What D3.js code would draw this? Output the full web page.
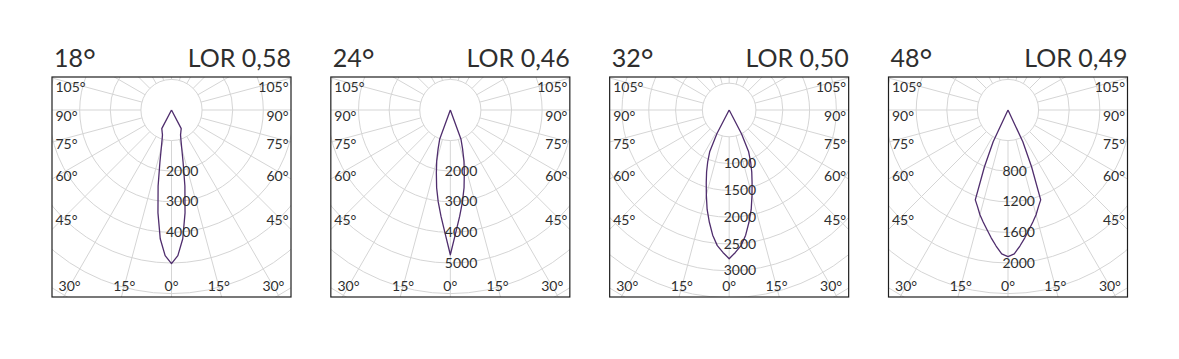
<!DOCTYPE html>
<html>
<head>
<meta charset="utf-8">
<script src="https://cdn.jsdelivr.net/npm/d3@7"></script>
<style>
  html, body { margin: 0; padding: 0; background: #fff; }
  text { font-family: Lato, "Noto Sans", sans-serif; }
</style>
</head>
<body>
<script>
// ---- data ----
const beamTitles = ["18", "24", "32", "48"];
const lorLabels = ["LOR 0,58", "LOR 0,46", "LOR 0,50", "LOR 0,49"];
const angles = [0, 2.5, 5, 7.5, 10, 12.5, 15, 17.5, 20, 22.5, 25, 27.5, 30];
const beam18 = [5020, 4765, 4225, 3390, 2520, 1750, 1292, 1025, 864, 795, 735, 688, 0];
const beam24 = [4730, 4020, 3490, 3030, 2580, 2110, 1720, 1330, 1020, 0, 0, 0, 0];
const beam32 = [2775, 2660, 2540, 2355, 2127, 1900, 1645, 1422, 1232, 1046, 860, 493, 0];
const beam48 = [1917, 1882, 1785, 1685, 1586, 1500, 1418, 1325, 1250, 807, 459, 0, 0];
const ringStep = [1000, 1000, 500, 400];
const ringLabels18 = [2000, 3000, 4000];
const ringLabels24 = [2000, 3000, 4000, 5000];
const ringLabels32 = [1000, 1500, 2000, 2500, 3000];
const ringLabels48 = [800, 1200, 1600, 2000];
const sideAngles = [105, 90, 75, 60, 45];
const bottomAngles = [-30, -15, 0, 15, 30];
const spokeAngles = d3.range(-165, 181, 15);

const series = [beam18, beam24, beam32, beam48];
const ringLabelSets = [ringLabels18, ringLabels24, ringLabels32, ringLabels48];

// ---- layout ----
const W = 1179, H = 359;
const boxW = 239, boxTop = 77, boxH = 220;
const stepPx = [30.6, 30.6, 26.8, 30.6];
const gridColor = "#d5d5d5", textColor = "#2e2e2e", lobeColor = "#4f2d6d";

const svg = d3.select("body").append("svg").attr("width", W).attr("height", H);
svg.append("rect").attr("width", W).attr("height", H).attr("fill", "#fff");
const defs = svg.append("defs");

const panelX = d3.scalePoint().domain(d3.range(4)).range([52, 888.5]);
const rad = d => d * Math.PI / 180;

d3.range(4).forEach(i => {
  const x0 = panelX(i), cx = x0 + boxW / 2, cy = boxTop + 33;
  const r = d3.scaleLinear().domain([0, ringStep[i]]).range([0, stepPx[i]]);

  defs.append("clipPath").attr("id", "clip" + i)
    .append("rect").attr("x", x0).attr("y", boxTop).attr("width", boxW).attr("height", boxH);

  const g = svg.append("g");
  const grid = g.append("g").attr("clip-path", `url(#clip${i})`);

  // rings
  grid.selectAll("circle").data(d3.range(1, 10).map(k => k * ringStep[i]))
    .join("circle")
    .attr("cx", cx).attr("cy", cy).attr("r", d => r(d))
    .attr("fill", "none").attr("stroke", gridColor).attr("stroke-width", 1);

  // spokes
  const r0 = r(ringStep[i]);
  grid.selectAll("line").data(spokeAngles).join("line")
    .attr("x1", a => cx + r0 * Math.sin(rad(a)))
    .attr("y1", a => cy + r0 * Math.cos(rad(a)))
    .attr("x2", a => cx + 400 * Math.sin(rad(a)))
    .attr("y2", a => cy + 400 * Math.cos(rad(a)))
    .attr("stroke", gridColor).attr("stroke-width", 1);

  // lobe (0deg = straight down)
  const vals = series[i];
  const pts = [];
  for (let k = angles.length - 1; k >= 0; k--) pts.push({a: -angles[k], v: vals[k]});
  for (let k = 1; k < angles.length; k++) pts.push({a: angles[k], v: vals[k]});
  const lobe = d3.lineRadial()
    .angle(d => Math.PI - rad(d.a))
    .radius(d => r(d.v));
  g.append("path")
    .attr("transform", `translate(${cx},${cy})`)
    .attr("d", lobe(pts))
    .attr("fill", "none").attr("stroke", lobeColor).attr("stroke-width", 1.3)
    .attr("stroke-linejoin", "round");

  // ring labels
  g.selectAll("text.ring").data(ringLabelSets[i]).join("text")
    .attr("class", "ring")
    .attr("x", cx - 5.5).attr("y", d => cy + r(d) - 1)
    .attr("dominant-baseline", "central")
    .attr("font-size", 14).attr("fill", textColor)
    .text(d => d);

  // side labels
  const dxLab = cx - x0 - 15;
  sideAngles.forEach(a => {
    const yb = cy + dxLab * Math.cos(rad(a)) / Math.sin(rad(a)) + 10.5;
    g.append("text").attr("x", x0 + 3.5).attr("y", yb)
      .attr("font-size", 14).attr("fill", textColor).text(a + "°");
    g.append("text").attr("x", x0 + boxW - 2.5).attr("y", yb)
      .attr("text-anchor", "end")
      .attr("font-size", 14).attr("fill", textColor).text(a + "°");
  });

  // bottom labels
  const yBottom = boxTop + boxH - 6;
  bottomAngles.forEach(a => {
    let x = cx + (yBottom - 4.5 - cy) * Math.tan(rad(a));
    x = Math.max(x0 + 15, Math.min(x0 + boxW - 14, x));
    g.append("text").attr("x", x).attr("y", yBottom)
      .attr("text-anchor", "middle")
      .attr("font-size", 14).attr("fill", textColor).text(Math.abs(a) + "°");
  });

  // frame
  g.append("rect").attr("x", x0).attr("y", boxTop).attr("width", boxW).attr("height", boxH)
    .attr("fill", "none").attr("stroke", "#1e1e1e").attr("stroke-width", 1.2);

  // titles
  const t = g.append("text").attr("x", x0 + 2).attr("y", 66.5)
    .attr("font-size", 25).attr("fill", textColor);
  t.append("tspan").text(beamTitles[i]);
  t.append("tspan").attr("font-size", 31).attr("dy", 5).text("°");
  g.append("text").attr("x", x0 + boxW).attr("y", 66.5)
    .attr("text-anchor", "end")
    .attr("font-size", 25).attr("fill", textColor).text(lorLabels[i]);
});
</script>
</body>
</html>
